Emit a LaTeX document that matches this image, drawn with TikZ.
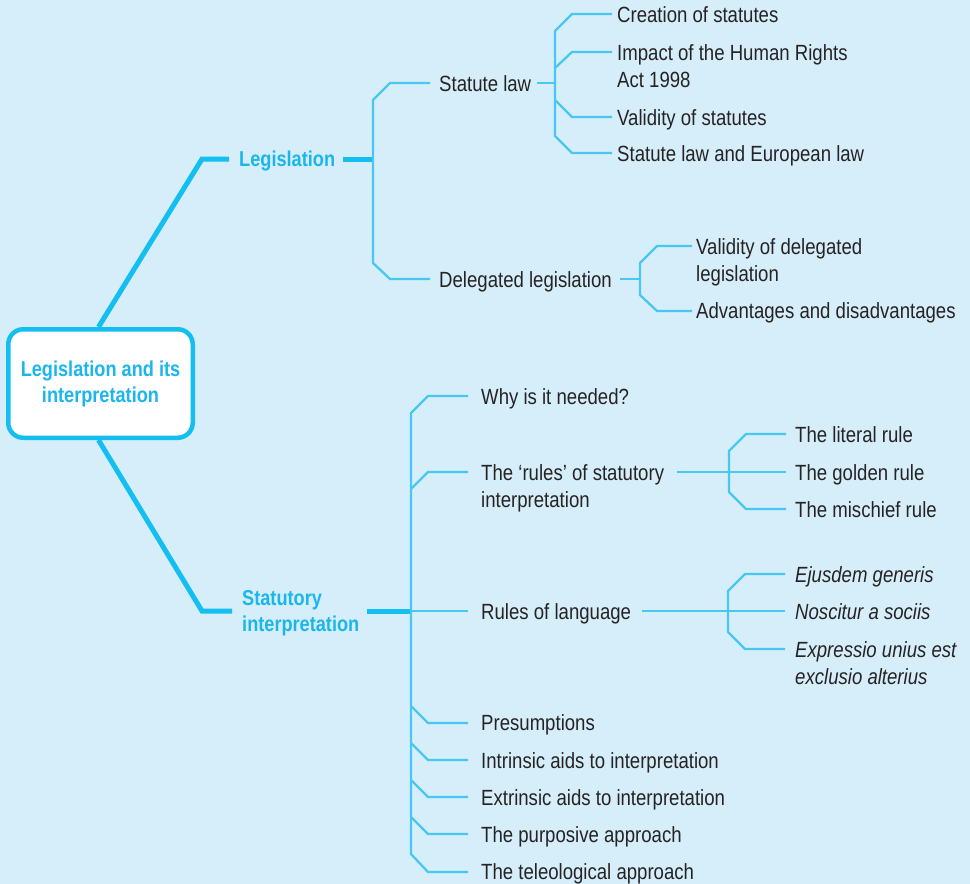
\documentclass[tikz,border=0pt]{standalone}
\usepackage{fontspec}
\setmainfont{Liberation Sans}[FakeStretch=0.845]
\definecolor{bg}{HTML}{D5EEFA}
\definecolor{thickc}{HTML}{14BEF0}
\definecolor{thinc}{HTML}{48C8F0}
\definecolor{txtc}{HTML}{262324}
\definecolor{boldc}{HTML}{1AB6EC}
\tikzset{
  lbl/.style={anchor=base west, inner sep=0pt, text=txtc, align=left,
    font=\fontsize{22}{27}\selectfont},
  ilbl/.style={lbl, font=\itshape\fontsize{22}{27}\selectfont},
  blbl/.style={lbl, text=boldc, font=\bfseries\fontsize{21.5}{26}\selectfont},
  rootbox/.style={draw=thickc, line width=4.5pt, fill=white, rounded corners=15pt,
    minimum width=184.5pt, minimum height=108.5pt, inner sep=0pt, align=center,
    text=boldc, font=\bfseries\fontsize{21.5}{26}\selectfont},
  thickl/.style={draw=thickc, line width=5pt},
  thinl/.style={draw=thinc, line width=2.3pt},
}
\begin{document}
\begin{tikzpicture}[x=1pt,y=-1pt]
\useasboundingbox (0,0) rectangle (970,884);
\fill[bg] (0,0) rectangle (970,884);

% root
\node[rootbox] (root) at (100.5,383.5) {Legislation and its\\interpretation};

% level 1 (multi-line nodes: base = last line's baseline)
\node[blbl] (legis) at (239,166) {Legislation};
\node[blbl] (statint) at (242,631) {Statutory\\interpretation};

% legislation children
\node[lbl] (statute) at (439,91) {Statute law};
\node[lbl] (deleg) at (439,287) {Delegated legislation};

\node[lbl] (creation) at (617,22) {Creation of statutes};
\node[lbl] (impact) at (617,87) {Impact of the Human Rights\\Act 1998};
\node[lbl] (validity) at (617,125) {Validity of statutes};
\node[lbl] (eulaw) at (617,161) {Statute law and European law};

\node[lbl] (valdel) at (696,281) {Validity of delegated\\legislation};
\node[lbl] (advant) at (696,318) {Advantages and disadvantages};

% statutory interpretation children
\node[lbl] (why) at (481,404) {Why is it needed?};
\node[lbl] (rules) at (481,507) {The ‘rules’ of statutory\\interpretation};
\node[lbl] (lang) at (481,619) {Rules of language};
\node[lbl] (pres) at (481,730) {Presumptions};
\node[lbl] (intr) at (481,768) {Intrinsic aids to interpretation};
\node[lbl] (extr) at (481,805) {Extrinsic aids to interpretation};
\node[lbl] (purp) at (481,842) {The purposive approach};
\node[lbl] (teleo) at (481,879) {The teleological approach};

\node[lbl] (literal) at (795,442) {The literal rule};
\node[lbl] (golden) at (795,480) {The golden rule};
\node[lbl] (mischief) at (795,517) {The mischief rule};

\node[ilbl] (ejus) at (795,582) {Ejusdem generis};
\node[ilbl] (nosc) at (795,619) {Noscitur a sociis};
\node[ilbl] (expr) at (795,684) {Expressio unius est\\exclusio alterius};

% main branches
\draw[thickl] ([xshift=-2pt]root.north) -- (202,159) -- ([shift={(-10,-7)}]legis.base west);
\draw[thickl] ([shift={(8,-7)}]legis.base east) -- (374,159);
\draw[thickl] ([xshift=-2pt]root.south) -- (202,611) -- ([shift={(-10,-20)}]statint.base west);
\draw[thickl] ([shift={(8,-20)}]statint.base east) -- (412,611);

% legislation bracket
\draw[thinl] ([shift={(-9,-8)}]statute.base west) -- (390,83) -- (373,100) -- (373,263) -- (390,279) -- ([shift={(-9,-8)}]deleg.base west);

% statute law bracket
\draw[thinl] ([shift={(6,-8)}]statute.base east) -- (555,83);
\draw[thinl] ([shift={(-5,-8)}]creation.base west) -- (572,14) -- (555,31) -- (555,136) -- (572,153) -- ([shift={(-5,-8)}]eulaw.base west);
\draw[thinl] (555,68) -- (572,52) -- ([shift={(-5,-35)}]impact.base west);
\draw[thinl] (555,100) -- (572,117) -- ([shift={(-5,-8)}]validity.base west);

% delegated bracket
\draw[thinl] ([shift={(8,-8)}]deleg.base east) -- (640,279);
\draw[thinl] ([shift={(-4,-35)}]valdel.base west) -- (657,246) -- (640,263) -- (640,295) -- (657,311) -- ([shift={(-4,-7)}]advant.base west);

% statutory interpretation bracket
\draw[thinl] ([shift={(-13,-8)}]why.base west) -- (428,396) -- (411,413) -- (411,854) -- (428,872) -- ([shift={(-13,-7)}]teleo.base west);
\draw[thinl] (411,489) -- (428,472) -- ([shift={(-13,-35)}]rules.base west);
\draw[thinl] (411,611) -- ([shift={(-13,-8)}]lang.base west);
\draw[thinl] (411,706) -- (428,723) -- ([shift={(-13,-7)}]pres.base west);
\draw[thinl] (411,743) -- (428,760) -- ([shift={(-13,-8)}]intr.base west);
\draw[thinl] (411,780) -- (428,797) -- ([shift={(-13,-8)}]extr.base west);
\draw[thinl] (411,817) -- (428,834) -- ([shift={(-13,-8)}]purp.base west);

% rules bracket
\draw[thinl] ([shift={(13,-35)}]rules.base east) -- ([shift={(-9,-8)}]golden.base west);
\draw[thinl] ([shift={(-9,-8)}]literal.base west) -- (746,434) -- (729,451) -- (729,492) -- (746,509) -- ([shift={(-9,-8)}]mischief.base west);

% language bracket
\draw[thinl] ([shift={(11,-8)}]lang.base east) -- ([shift={(-10,-8)}]nosc.base west);
\draw[thinl] ([shift={(-10,-8)}]ejus.base west) -- (745,574) -- (728,591) -- (728,632) -- (745,649) -- ([shift={(-10,-35)}]expr.base west);
\end{tikzpicture}
\end{document}
